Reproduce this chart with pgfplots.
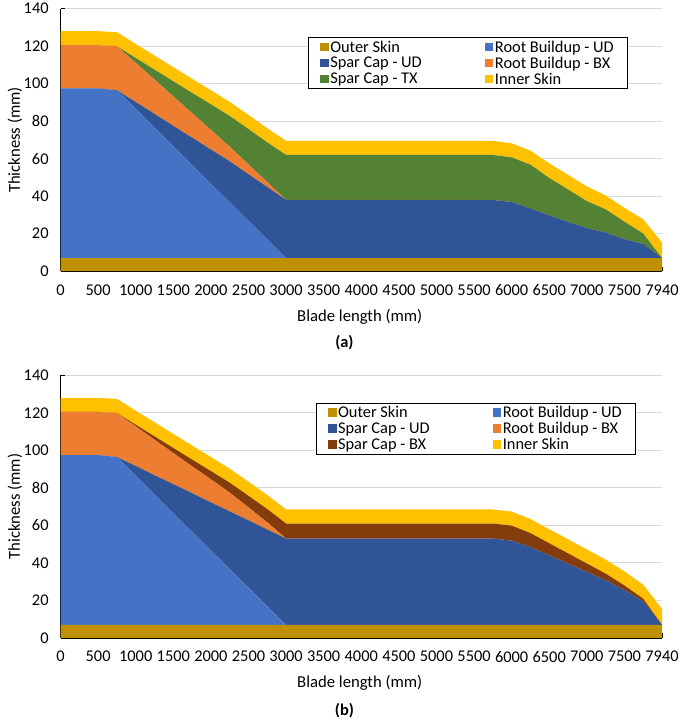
\documentclass[border=0pt]{standalone}
\usepackage{fontspec}
\setmainfont{Carlito}
\usepackage{pgfplots}
\usepackage{pgfplotstable}
\pgfplotsset{compat=1.18}
\definecolor{outerc}{HTML}{BF9000}
\definecolor{rootud}{HTML}{4472C4}
\definecolor{sparud}{HTML}{2F5597}
\definecolor{rootbx}{HTML}{ED7D31}
\definecolor{spartx}{HTML}{548235}
\definecolor{sparbx}{HTML}{843C0C}
\definecolor{innerc}{HTML}{FFC000}
\definecolor{gridc}{HTML}{D9D9D9}

\pgfplotstableread{
i outer rootud sparud rootbx spartx inner
0 7 90.5 0 23 0 7.5
1 7 90.5 0 23 0 7.5
2 7 90.5 0 23 0 7.5
3 7 89.5 0 23.5 0 7.5
4 7 79.6 3.6 20.9 2.6 7.5
5 7 69.6 7.3 18.3 5.3 7.5
6 7 59.7 10.8 15.7 8.1 7.5
7 7 49.7 14.5 13.1 10.8 7.5
8 7 39.8 18.1 10.4 13.7 7.5
9 7 29.8 21.8 7.8 16.4 7.5
10 7 19.9 24.8 5.2 18.9 7.5
11 7 9.9 28 2.6 21.2 7.5
12 7 0 31 0 24 7.5
13 7 0 31 0 24 7.5
14 7 0 31 0 24 7.5
15 7 0 31 0 24 7.5
16 7 0 31 0 24 7.5
17 7 0 31 0 24 7.5
18 7 0 31 0 24 7.5
19 7 0 31 0 24 7.5
20 7 0 31 0 24 7.5
21 7 0 31 0 24 7.5
22 7 0 31 0 24 7.5
23 7 0 31 0 24 7.5
24 7 0 29.9 0 23.8 7.5
25 7 0 26.5 0 23.3 7.5
26 7 0 22.8 0 19.9 7.8
27 7 0 19.3 0 17.3 7.8
28 7 0 16 0 14.4 7.8
29 7 0 13.6 0 12.4 7.4
30 7 0 10.1 0 9.3 7.4
31 7 0 7.5 0 5.6 7.6
32 7 0 0 0 0 8.3
}\dataA

\pgfplotstableread{
i outer rootud sparud rootbx sparbx inner
0 7 90.5 0 23 0 7.5
1 7 90.5 0 23 0 7.5
2 7 90.5 0 23 0 7.5
3 7 89.5 0 23.5 0 7.5
4 7 79.6 5.1 21.1 0.9 7.5
5 7 69.6 10.2 18.9 1.8 7.5
6 7 59.7 15.3 16.6 2.7 7.5
7 7 49.7 20.5 14.3 3.6 7.5
8 7 39.8 25.5 12.3 4.4 7.5
9 7 29.8 30.7 10 5.3 7.5
10 7 19.9 35.8 6.9 6.2 7.5
11 7 9.9 40.9 3.8 7.1 7.5
12 7 0 46 0 8 7.5
13 7 0 46 0 8 7.5
14 7 0 46 0 8 7.5
15 7 0 46 0 8 7.5
16 7 0 46 0 8 7.5
17 7 0 46 0 8 7.5
18 7 0 46 0 8 7.5
19 7 0 46 0 8 7.5
20 7 0 46 0 8 7.5
21 7 0 46 0 8 7.5
22 7 0 46 0 8 7.5
23 7 0 46 0 8 7.5
24 7 0 44.9 0 8 7.5
25 7 0 41.4 0 7.5 7.5
26 7 0 37 0 6.5 7.5
27 7 0 32.6 0 5.5 7.5
28 7 0 28.2 0 4.5 7.5
29 7 0 23.8 0 3.5 7.5
30 7 0 18.5 0 2.5 7.5
31 7 0 12.4 0 1.5 7.5
32 7 0 0 0 0 8.5
}\dataB

\pgfplotsset{
  layers/mylayers/.define layer set={axis background,axis grid,pre main,main,axis ticks,axis lines,axis tick labels,axis descriptions,axis foreground}{},
  bladeaxis/.style={
    set layers=mylayers,
    scale only axis, width=606pt, height=264.5pt,
    xmin=0, xmax=32, ymin=0, ymax=140,
    stack plots=y,
    xtick={0,...,32},
    xticklabels={{0},{},{500},{},{1000},{},{1500},{},{2000},{},{2500},{},{3000},{},{3500},{},{4000},{},{4500},{},{5000},{},{5500},{},{6000},{},{6500},{},{7000},{},{7500},{},{7940}},
    ytick={0,20,...,140},
    axis x line*=bottom, axis y line*=left,
    axis line style={line width=1.3pt, black, -},
    tick align=inside, major tick length=4.5pt,
    tick style={line width=1pt, black},
    ymajorgrids, grid style={line width=1.1pt, gridc},
    tick label style={font=\fontsize{16.5}{17}\selectfont},
    yticklabel style={/pgf/number format/assume math mode=true, xshift=-8.5pt},
    xticklabel style={yshift=-10pt},
    every axis y label/.style={at={(axis description cs:-0.0759,0.5)}, rotate=90, anchor=center, font=\fontsize{16.8}{17}\selectfont},
    every axis x label/.style={at={(axis description cs:0.4975,-0.172)}, anchor=center, font=\fontsize{16.8}{17}\selectfont},
    xlabel={Blade length (mm)}, ylabel={Thickness (mm)},
    legend columns=2, legend cell align=left,
    legend style={draw=black, line width=1.2pt, fill=white, inner xsep=12pt, inner ysep=1.5pt,
      font=\fontsize{16.5}{17}\selectfont,
      nodes={inner sep=1.6pt},
      /tikz/every even column/.append style={column sep=62pt}},
    legend image code/.code={\fill[##1] (0pt,-4pt) rectangle (8.5pt,4.5pt);},
  },
}

\begin{document}
\begin{tikzpicture}
\path (0pt,0pt) rectangle (685pt,-721pt);

\begin{axis}[bladeaxis, at={(61pt,-270.5pt)}, anchor=south west,
  legend style={at={(rel axis cs:0.411,0.892)}, anchor=north west}]
\addplot[fill=outerc, draw=none, mark=none] table[x=i,y=outer]{\dataA} \closedcycle;
\addlegendentry{Outer Skin}
\addplot[fill=rootud, draw=none, mark=none] table[x=i,y=rootud]{\dataA} \closedcycle;
\addlegendentry{Root Buildup - UD}
\addplot[fill=sparud, draw=none, mark=none] table[x=i,y=sparud]{\dataA} \closedcycle;
\addlegendentry{Spar Cap - UD}
\addplot[fill=rootbx, draw=none, mark=none] table[x=i,y=rootbx]{\dataA} \closedcycle;
\addlegendentry{Root Buildup - BX}
\addplot[fill=spartx, draw=none, mark=none] table[x=i,y=spartx]{\dataA} \closedcycle;
\addlegendentry{Spar Cap - TX}
\addplot[fill=innerc, draw=none, mark=none] table[x=i,y=inner]{\dataA} \closedcycle;
\addlegendentry{Inner Skin}
\end{axis}
\node[font=\bfseries\fontsize{16.5}{17}\selectfont] at (347pt,-343pt) {(a)};

\begin{axis}[bladeaxis, at={(61pt,-640pt)}, anchor=south west,
  legend style={at={(rel axis cs:0.424,0.896)}, anchor=north west}]
\addplot[fill=outerc, draw=none, mark=none] table[x=i,y=outer]{\dataB} \closedcycle;
\addlegendentry{Outer Skin}
\addplot[fill=rootud, draw=none, mark=none] table[x=i,y=rootud]{\dataB} \closedcycle;
\addlegendentry{Root Buildup - UD}
\addplot[fill=sparud, draw=none, mark=none] table[x=i,y=sparud]{\dataB} \closedcycle;
\addlegendentry{Spar Cap - UD}
\addplot[fill=rootbx, draw=none, mark=none] table[x=i,y=rootbx]{\dataB} \closedcycle;
\addlegendentry{Root Buildup - BX}
\addplot[fill=sparbx, draw=none, mark=none] table[x=i,y=sparbx]{\dataB} \closedcycle;
\addlegendentry{Spar Cap - BX}
\addplot[fill=innerc, draw=none, mark=none] table[x=i,y=inner]{\dataB} \closedcycle;
\addlegendentry{Inner Skin}
\end{axis}
\node[font=\bfseries\fontsize{16.5}{17}\selectfont] at (347pt,-713pt) {(b)};
\end{tikzpicture}
\end{document}
